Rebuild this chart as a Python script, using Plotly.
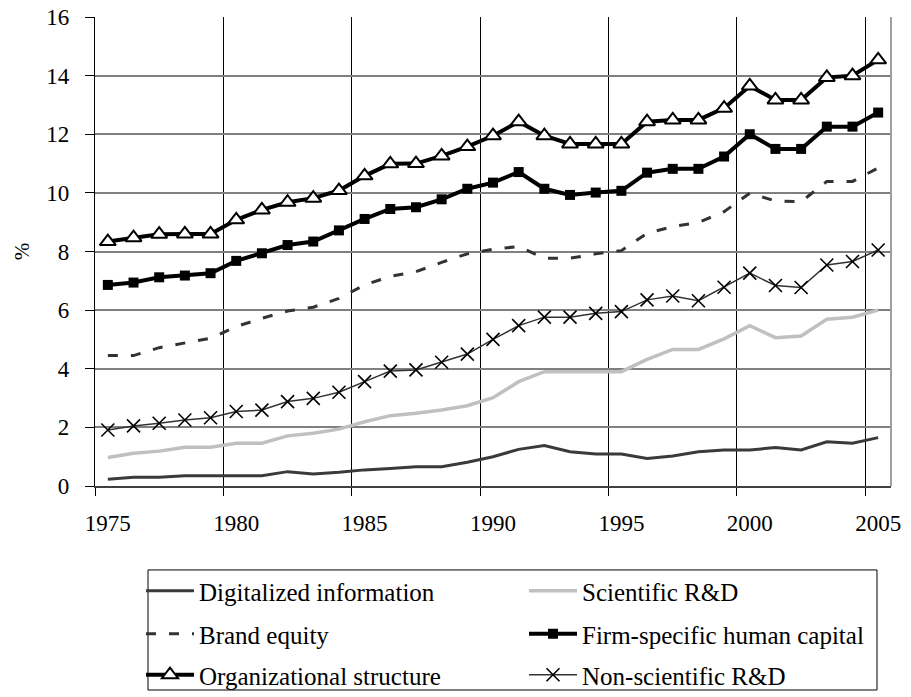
import plotly.graph_objects as go

years = list(range(1975, 2006))
tick_years = [1975, 1980, 1985, 1990, 1995, 2000, 2005]
boundaries = [1974.5, 1979.5, 1984.5, 1989.5, 1994.5, 1999.5, 2004.5]

digital = [0.23, 0.30, 0.30, 0.35, 0.35, 0.35, 0.35, 0.49, 0.41, 0.47,
           0.55, 0.60, 0.66, 0.66, 0.81, 1.00, 1.25, 1.38, 1.17, 1.09,
           1.09, 0.94, 1.02, 1.17, 1.23, 1.23, 1.31, 1.23, 1.51, 1.46, 1.65]
scientific = [0.97, 1.12, 1.19, 1.32, 1.32, 1.46, 1.46, 1.71, 1.80, 1.94,
              2.19, 2.40, 2.48, 2.59, 2.74, 3.01, 3.56, 3.90, 3.90, 3.90,
              3.90, 4.32, 4.66, 4.66, 5.02, 5.47, 5.06, 5.12, 5.69, 5.76, 6.00]
brand = [4.45, 4.45, 4.72, 4.89, 5.04, 5.44, 5.72, 5.97, 6.10, 6.40,
         6.86, 7.15, 7.31, 7.63, 7.92, 8.08, 8.17, 7.77, 7.77, 7.92,
         8.03, 8.62, 8.85, 8.99, 9.36, 9.99, 9.72, 9.70, 10.39, 10.39, 10.85]
firm = [6.86, 6.94, 7.12, 7.18, 7.26, 7.68, 7.94, 8.22, 8.34, 8.72,
        9.11, 9.45, 9.51, 9.78, 10.14, 10.35, 10.71, 10.14, 9.93, 10.01,
        10.07, 10.69, 10.82, 10.82, 11.24, 12.00, 11.50, 11.50, 12.26, 12.26, 12.74]
org = [8.34, 8.47, 8.59, 8.60, 8.60, 9.08, 9.42, 9.68, 9.82, 10.08,
       10.58, 10.99, 11.00, 11.26, 11.58, 11.95, 12.43, 11.95, 11.67, 11.67,
       11.67, 12.43, 12.49, 12.49, 12.89, 13.65, 13.17, 13.17, 13.94, 14.00, 14.54]
nonsci = [1.91, 2.05, 2.14, 2.25, 2.33, 2.54, 2.59, 2.88, 2.99, 3.20,
          3.56, 3.92, 3.96, 4.22, 4.50, 5.00, 5.47, 5.76, 5.76, 5.89,
          5.95, 6.35, 6.48, 6.32, 6.78, 7.26, 6.84, 6.77, 7.54, 7.66, 8.05]

FONT = "Liberation Serif, Times New Roman, Times, serif"
# page has an 8px body margin; the figure is sized to fill the rest of the window
OFF = 8
W, H = 911 - OFF, 697 - OFF


def leg_y(py):
    return 1 - (py - 2 - OFF) / H


fig = go.Figure()
fig.add_trace(go.Scatter(x=years, y=digital, name="Digitalized information", mode="lines",
                         line=dict(color="#3a3a3a", width=3), legend="legend"))
fig.add_trace(go.Scatter(x=years, y=scientific, name="Scientific R&D", mode="lines",
                         line=dict(color="#c0c0c0", width=3.5), legend="legend"))
fig.add_trace(go.Scatter(x=years, y=brand, name="Brand equity", mode="lines",
                         line=dict(color="#333333", width=3, dash="10px,13px"), legend="legend2"))
fig.add_trace(go.Scatter(x=years, y=firm, name="Firm-specific human capital", mode="lines+markers",
                         line=dict(color="black", width=4),
                         marker=dict(symbol="square", size=10, color="black"), legend="legend2"))
fig.add_trace(go.Scatter(x=years, y=org, name="Organizational structure", mode="lines+markers",
                         line=dict(color="black", width=4),
                         marker=dict(symbol="triangle-up", size=14, color="white",
                                     line=dict(color="black", width=2)), legend="legend3"))
fig.add_trace(go.Scatter(x=years, y=nonsci, name="Non-scientific R&D", mode="lines+markers",
                         line=dict(color="#333333", width=1.5),
                         marker=dict(symbol="x-thin-open", size=13, color="black",
                                     line=dict(color="black", width=1.6)), legend="legend3"))

leg_common = dict(orientation="h", xanchor="left", yanchor="middle",
                  xref="container", yref="container", x=133 / W,
                  font=dict(family=FONT, size=25, color="black"),
                  bgcolor="rgba(0,0,0,0)", borderwidth=0,
                  entrywidth=320, entrywidthmode="pixels", itemwidth=48,
                  traceorder="normal")

fig.update_layout(
    width=W, height=H,
    margin=dict(l=95 - OFF, r=20, t=17 - OFF, b=211, autoexpand=False),
    paper_bgcolor="white", plot_bgcolor="white",
    font=dict(family=FONT, size=22, color="black"),
    showlegend=True,
    legend=dict(leg_common, y=leg_y(593)),
    legend2=dict(leg_common, y=leg_y(636)),
    legend3=dict(leg_common, y=leg_y(677)),
    xaxis=dict(range=[1974.5, 2005.5], tickmode="array", tickvals=tick_years,
               ticktext=[str(t) for t in tick_years], ticks="", showgrid=False,
               zeroline=False, showline=True, linecolor="#404040", linewidth=2,
               ticklabelstandoff=15, automargin=False, ticklabeloverflow="allow",
               tickfont=dict(family=FONT, size=23, color="black"),
               minor=dict(tickmode="array", tickvals=boundaries, showgrid=True,
                          gridcolor="black", gridwidth=1, ticks="outside",
                          ticklen=8, tickcolor="black", tickwidth=1)),
    yaxis=dict(range=[0, 16], tickmode="array", tickvals=list(range(0, 17, 2)),
               showgrid=True, gridcolor="#808080", gridwidth=1.5, zeroline=False,
               showline=True, linecolor="black", linewidth=1.3,
               ticks="outside", ticklen=9, tickcolor="black", tickwidth=1,
               ticklabelstandoff=11, automargin=False, ticklabeloverflow="allow",
               tickfont=dict(family=FONT, size=23, color="black"),
               title=dict(text="%", font=dict(family=FONT, size=21, color="black"),
                          standoff=10)),
    shapes=[
        dict(type="line", xref="paper", yref="paper", x0=1, x1=1, y0=0, y1=1,
             line=dict(color="#a0a0a0", width=2)),
        dict(type="rect", xref="paper", yref="paper", x0=0.0666, x1=0.9824,
             y0=-0.435, y1=-0.179, line=dict(color="black", width=1)),
    ],
)

fig.write_html("out.html")
